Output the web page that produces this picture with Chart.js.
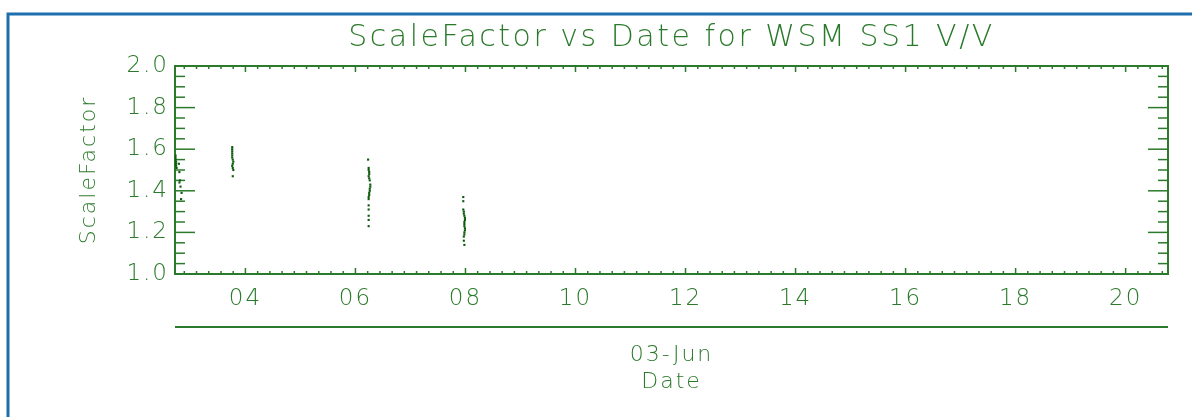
<!DOCTYPE html>
<html>
<head>
<meta charset="utf-8">
<title>ScaleFactor vs Date for WSM SS1 V/V</title>
<script src="https://cdn.jsdelivr.net/npm/chart.js@4.4.1/dist/chart.umd.min.js"></script>
<style>
  html, body { margin: 0; padding: 0; background: #fff; }
  #wrap { position: relative; width: 1192px; height: 417px; }
</style>
</head>
<body>
<div id="wrap"><canvas id="grafico" width="1192" height="417"></canvas></div>
<script>
// horas do dia 03-Jun e fator de escala de cada passagem
const pass1Hours  = [2.73, 2.73, 2.73, 2.74, 2.74, 2.74, 2.75, 2.79, 2.80, 2.81, 2.80, 2.82, 2.84, 2.83];
const pass1Values = [1.57, 1.56, 1.55, 1.54, 1.53, 1.52, 1.51, 1.53, 1.49, 1.45, 1.44, 1.42, 1.39, 1.36];

const pass2Hours  = [3.76, 3.76, 3.76, 3.76, 3.76, 3.76, 3.77, 3.78, 3.77, 3.76, 3.77, 3.78, 3.77];
const pass2Values = [1.61, 1.60, 1.59, 1.58, 1.57, 1.56, 1.55, 1.54, 1.53, 1.52, 1.51, 1.50, 1.47];

const pass3Hours  = [6.23, 6.24, 6.24, 6.25, 6.25, 6.24, 6.25, 6.26, 6.27, 6.27, 6.26, 6.26, 6.25, 6.25, 6.24, 6.24, 6.24, 6.24, 6.24, 6.24, 6.24];
const pass3Values = [1.55, 1.51, 1.50, 1.49, 1.48, 1.47, 1.46, 1.45, 1.43, 1.42, 1.41, 1.40, 1.39, 1.38, 1.37, 1.36, 1.33, 1.31, 1.28, 1.26, 1.23];

const pass4Hours  = [7.96, 7.96, 7.96, 7.97, 7.97, 7.98, 7.99, 7.99, 7.98, 7.98, 7.98, 7.99, 7.99, 7.98, 7.98, 7.97, 7.97, 7.98];
const pass4Values = [1.37, 1.35, 1.31, 1.30, 1.29, 1.28, 1.27, 1.26, 1.25, 1.24, 1.23, 1.22, 1.21, 1.20, 1.19, 1.18, 1.16, 1.14];

const xTickHours  = [4, 6, 8, 10, 12, 14, 16, 18, 20];
const xTickLabels = ["04", "06", "08", "10", "12", "14", "16", "18", "20"];
const yTickValues = [1.0, 1.2, 1.4, 1.6, 1.8, 2.0];

const verde = "#2b7a2b";
const verdeEscuro = "#0b5a0b";
const fonte = '"DejaVu Sans", sans-serif';
const peso = 300;

const horas = [...pass1Hours, ...pass2Hours, ...pass3Hours, ...pass4Hours];
const valores = [...pass1Values, ...pass2Values, ...pass3Values, ...pass4Values];
const pontos = horas.map((h, i) => ({ x: h, y: valores[i] }));

function linha(ctx, x1, y1, x2, y2) {
  ctx.beginPath();
  ctx.moveTo(x1, y1);
  ctx.lineTo(x2, y2);
  ctx.stroke();
}

// moldura, tiques menores, titulo e linha do eixo de baixo
const moldura = {
  id: "moldura",
  beforeDraw(chart) {
    // letras mais abertas, como a fonte vetorial do original
    chart.ctx.letterSpacing = "2px";
  },
  beforeDatasetsDraw(chart) {
    const ctx = chart.ctx;
    const { left, right, top, bottom } = chart.chartArea;
    const sx = chart.scales.x, sy = chart.scales.y;
    ctx.save();
    ctx.strokeStyle = verde;

    ctx.lineWidth = 1.5;
    for (let i = 0; i <= 20; i++) {
      const py = sy.getPixelForValue(1 + i * 0.05);
      const len = i % 4 === 0 ? 20 : 10;
      linha(ctx, left, py, left + len, py);
      linha(ctx, right, py, right - len, py);
    }
    const passo = 2 / 9;
    for (let k = -8; k <= 80; k++) {
      const h = 4 + k * passo;
      if (h < sx.min || h > sx.max) continue;
      const px = sx.getPixelForValue(h);
      const len = k % 9 === 0 ? 6 : 3;
      linha(ctx, px, top, px, top + len);
      linha(ctx, px, bottom, px, bottom - len);
    }

    ctx.lineWidth = 2;
    ctx.strokeRect(left, top, right - left, bottom - top);
    linha(ctx, left, 327, right, 327);

    ctx.fillStyle = verde;
    ctx.font = peso + " 30px " + fonte;
    ctx.letterSpacing = "2.5px";
    ctx.textAlign = "center";
    ctx.textBaseline = "middle";
    ctx.fillText("ScaleFactor vs Date for WSM SS1 V/V", (left + right) / 2, 38);

    ctx.strokeStyle = "#1f6fae";
    ctx.lineWidth = 3;
    ctx.beginPath();
    ctx.moveTo(8, 417);
    ctx.lineTo(8, 14);
    ctx.lineTo(1192, 14);
    ctx.stroke();
    ctx.restore();
  }
};

const grafico = new Chart(document.getElementById("grafico"), {
  type: "scatter",
  data: {
    datasets: [{
      label: "ScaleFactor",
      data: pontos,
      pointStyle: "rect",
      pointRadius: 1.5,
      borderWidth: 0,
      backgroundColor: verdeEscuro
    }]
  },
  options: {
    responsive: false,
    animation: false,
    devicePixelRatio: 1,
    layout: { padding: { left: 0, right: 24, top: 66, bottom: 0 } },
    plugins: { legend: { display: false }, tooltip: { enabled: false } },
    scales: {
      x: {
        type: "linear",
        min: 2.72,
        max: 20.77,
        afterBuildTicks: s => { s.ticks = xTickHours.map(v => ({ value: v })); },
        afterFit: s => { s.height = 143; },
        grid: { display: false, drawTicks: false },
        border: { display: false },
        ticks: {
          autoSkip: false,
          maxRotation: 0,
          padding: 11,
          color: verde,
          font: { family: fonte, size: 23, weight: peso },
          callback: v => xTickLabels[xTickHours.indexOf(v)]
        },
        title: {
          display: true,
          text: ["03-Jun", "Date"],
          color: verde,
          font: { family: fonte, size: 22, weight: peso, lineHeight: "27px" },
          padding: { top: 0, bottom: 21 }
        }
      },
      y: {
        min: 1,
        max: 2,
        afterBuildTicks: s => { s.ticks = yTickValues.map(v => ({ value: v })); },
        afterFit: s => { s.width = 175; },
        grid: { display: false, drawTicks: false },
        border: { display: false },
        ticks: {
          autoSkip: false,
          padding: 6,
          color: verde,
          font: { family: fonte, size: 23, weight: peso },
          callback: v => v.toFixed(1)
        },
        title: {
          display: true,
          text: "ScaleFactor",
          color: verde,
          font: { family: fonte, size: 22, weight: peso },
          padding: { top: 76, bottom: 0 }
        }
      }
    }
  },
  plugins: [moldura]
});
</script>
</body>
</html>
